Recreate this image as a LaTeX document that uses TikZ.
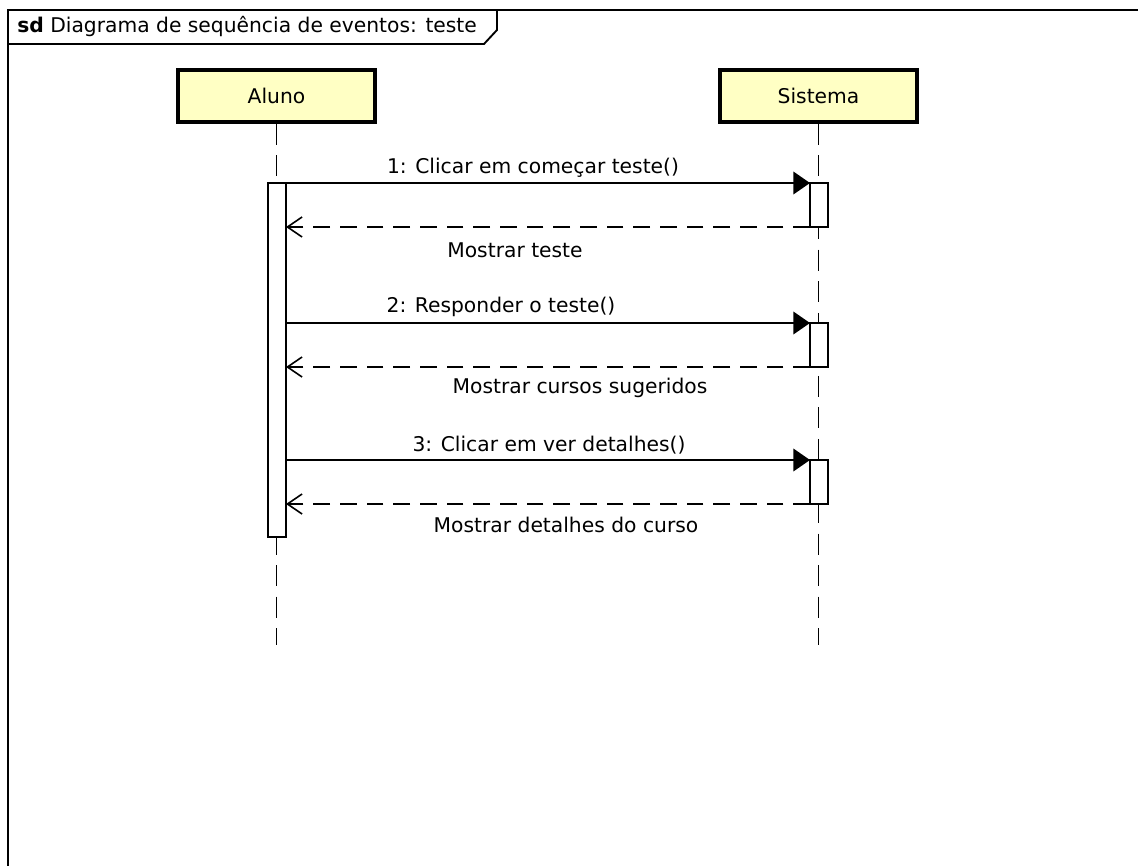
\documentclass[tikz,border=0pt]{standalone}
\usepackage{fontspec}
\setmainfont{DejaVu Sans}
\usetikzlibrary{arrows.meta, positioning}

\definecolor{lifebox}{RGB}{255,255,196}

\begin{document}
\begin{tikzpicture}
        [
            x=0.75pt, y=-0.75pt,
            font=\fontsize{15.2pt}{18pt}\selectfont,
            actor/.style={draw, line width=2.4pt, fill=lifebox, minimum width=147.75pt, minimum height=39pt, inner sep=0pt},
            lifeline/.style={line width=1.2pt, dash pattern=on 15.75pt off 7.9pt},
            activation/.style={draw, fill=white, line width=1.2pt, minimum width=13.5pt, inner sep=0pt, outer sep=0pt, anchor=north},
            call/.style={line width=1.2pt, -{Triangle[length=12.5pt,width=17pt]}},
            reply/.style={line width=1.2pt, dash pattern=on 12.5pt off 7.5pt, -{Straight Barb[length=11pt,width=15pt]}},
            msg/.style={inner sep=1pt},
            frame/.style={line width=1.4pt},
        ]
        \useasboundingbox (0,0) rectangle (1138,866);

        % frame and its header
        \draw[frame] (8,866) -- (8,10) -- (1138,10);
        \draw[frame] (8,44) -- (484,44) -- (497,30) -- (497,10);
        \node[anchor=west, inner sep=0pt] (title) at (17,27) {\textbf{sd} Diagrama de sequência de eventos: teste};

        % participants
        \node[actor] (aluno) at (276.5,96) {Aluno};
        \node[actor] (sistema) at (818.5,96) {Sistema};
        \coordinate (aluno end) at (aluno.south |- 0,645);
        \coordinate (sistema end) at (sistema.south |- 0,645);
        \draw[lifeline] (aluno.south) -- (aluno end);
        \draw[lifeline] (sistema.south) -- (sistema end);

        % activations
        \node[activation, minimum height=265.5pt] (act a) at (277,183) {};
        \node[activation, minimum height=33pt] (act s1) at (819,183) {};
        \node[activation, minimum height=33pt] (act s2) at (819,323) {};
        \node[activation, minimum height=33pt] (act s3) at (819,460) {};

        % messages
        \draw[call] (act a.east |- act s1.north west) -- (act s1.north west);
        \draw[reply] (act s1.south west) -- (act a.east |- act s1.south west);
        \draw[call] (act a.east |- act s2.north west) -- (act s2.north west);
        \draw[reply] (act s2.south west) -- (act a.east |- act s2.south west);
        \draw[call] (act a.east |- act s3.north west) -- (act s3.north west);
        \draw[reply] (act s3.south west) -- (act a.east |- act s3.south west);

        \node[msg] (m1) at (533,168) {1: Clicar em começar teste()};
        \node[msg] (r1) at (515,250) {Mostrar teste};
        \node[msg] (m2) at (501,307) {2: Responder o teste()};
        \node[msg] (r2) at (580,388) {Mostrar cursos sugeridos};
        \node[msg] (m3) at (549,445) {3: Clicar em ver detalhes()};
        \node[msg] (r3) at (566,525) {Mostrar detalhes do curso};
    \end{tikzpicture}
\end{document}
